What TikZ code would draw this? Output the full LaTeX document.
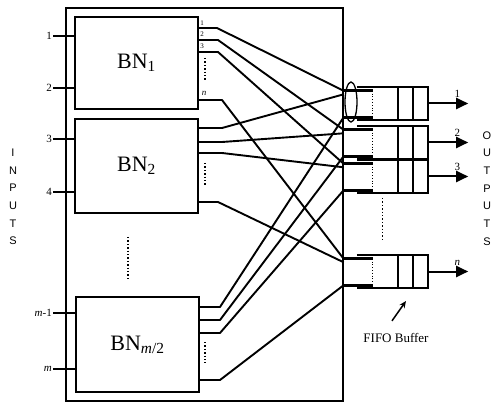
\documentclass[tikz,border=0pt]{standalone}
\usepackage{fontspec}
\setmainfont{Liberation Serif}
\newfontfamily\labelsans{Liberation Sans}
\usetikzlibrary{arrows.meta, positioning, calc}

\begin{document}
\begin{tikzpicture}[
    x=1pt, y=-1pt,
    fabric/.style={rectangle, draw, line width=1.3pt, inner sep=0pt},
    bnbox/.style={rectangle, draw, line width=1.6pt, inner sep=0pt, minimum width=123pt, font=\fontsize{22}{24}\selectfont},
    fifo/.style={rectangle, inner sep=0pt, minimum width=71pt, minimum height=33pt},
    link/.style={line width=1.9pt, line join=round},
    inlink/.style={line width=1.6pt},
    stub/.style={line width=2.8pt},
    dots/.style={line width=1.4pt, dotted},
    numlbl/.style={font=\fontsize{11}{13}\selectfont, inner sep=1pt},
    tinylbl/.style={font=\fontsize{7}{8}\selectfont, inner sep=0pt},
    vlabel/.style={font=\labelsans\fontsize{11}{17.7}\selectfont, align=center, inner sep=0pt},
    outarrow/.style={-{Triangle[length=12pt, width=11pt]}, line width=2pt},
    pointer/.style={-{Stealth[length=7pt, width=6pt]}, line width=1.5pt},
]
\useasboundingbox (0,0) rectangle (492,403);

% Switch fabric and banyan networks
\node[fabric, minimum width=277pt, minimum height=393pt] (switch) at (204.5,204.5) {};
\node[bnbox, minimum height=92pt] (bn1) at (136.5,63) {BN\textsubscript{1}};
\node[bnbox, minimum height=94pt] (bn2) at (136.5,166) {BN\textsubscript{2}};
\node[bnbox, minimum height=95pt] (bnm) at (137.5,344.5) {BN\textsubscript{\textit{m}/2}};
\draw[dots] (128,237) -- (128,278);

% Inputs
\foreach \y/\lbl/\nm/\bn in {36/1/i1/bn1, 88/2/i2/bn1, 139/3/i3/bn2, 192/4/i4/bn2, 313/{\textit{m}-1}/im1/bnm, 369/\textit{m}/im/bnm}
{
    \node[numlbl, anchor=east] (\nm) at (53,\y) {\lbl};
    \draw[inlink] (\nm.east) -- (\nm.east -| \bn.west);
}
\node[vlabel] (inlbl) at (13,197) {I\\N\\P\\U\\T\\S};

% Output ports of the networks
\coordinate (a1) at (198,28);
\coordinate (a2) at (198,40);
\coordinate (a3) at (198,52);
\coordinate (an) at (198,100);
\coordinate (b1) at (198,128);
\coordinate (b2) at (198,142);
\coordinate (b3) at (198,153);
\coordinate (bn) at (198,202);
\coordinate (c1) at (199,307);
\coordinate (c2) at (199,320);
\coordinate (c3) at (199,333);
\coordinate (cn) at (199,380);
\node[tinylbl] at (202,23) {1};
\node[tinylbl] at (202,34) {2};
\node[tinylbl] at (202,46) {3};
\node[tinylbl, font=\fontsize{9}{10}\selectfont\itshape] at (204,93) {n};
\draw[dots] (205,58) -- (205,80);
\draw[dots] (205,163) -- (205,185);
\draw[dots] (205,342) -- (205,363);

% FIFO buffers
\node[fifo] (q1) at (392.5,103.5) {};
\node[fifo] (q2) at (392.5,142.5) {};
\node[fifo] (q3) at (392.5,176.5) {};
\node[fifo] (qn) at (392.5,271.5) {};
\foreach \q in {q1,q2,q3,qn}
{
    \draw[line width=1.6pt] (\q.north west) -| (\q.south east) -- (\q.south west);
    \draw[line width=1.6pt] ([xshift=-30pt]\q.north east) -- ([xshift=-30pt]\q.south east)
        ([xshift=-15pt]\q.north east) -- ([xshift=-15pt]\q.south east);
    \coordinate (\q-top) at ([yshift=-4pt]\q.north west -| switch.east);
    \coordinate (\q-mid) at ([yshift=-7.5pt]\q.north west -| switch.east);
    \coordinate (\q-bot) at ([yshift=3pt]\q.south west -| switch.east);
    \draw[stub] (\q-top) -- ++(29,0);
    \draw[stub] (\q-bot) -- ++(29,0);
    \draw[line width=0.8pt, dotted] ([xshift=29pt]\q-top) -- ([xshift=29pt]\q-bot);
}
\draw[line width=1.3pt] (351,102) ellipse [x radius=6, y radius=20];
\draw[dots, line width=1pt] (382,198) -- (382,240);

% Links from networks to buffers
\foreach \src/\dst/\len in {a1/q1-top/19, a2/q2-top/20, a3/q3-top/20, an/qn-top/24,
    b1/q1-mid/24, b2/q2-mid/24, b3/q3-mid/24, bn/qn-mid/20,
    c1/q1-bot/21, c2/q2-bot/21, c3/q3-bot/21, cn/qn-bot/21}
    \draw[link] (\src) -- ++(\len,0) -- (\dst);

% Outputs
\foreach \q/\lbl in {q1/1, q2/2, q3/3, qn/\textit{n}}
{
    \coordinate (\q-out) at ([xshift=40pt]\q.east);
    \draw[outarrow] (\q.east) -- (\q-out);
    \node[numlbl, above left=5pt and 7pt of \q-out] {\lbl};
}
\node[vlabel] (outlbl) at (487,188.5) {O\\U\\T\\P\\U\\T\\S};

% Label
\node[font=\fontsize{13}{15}\selectfont] (fifolbl) at (396,338) {FIFO Buffer};
\coordinate (fifotip) at (406,301);
\draw[pointer] ([xshift=-4pt,yshift=9pt]fifolbl.north) -- (fifotip);

\end{tikzpicture}
\end{document}
